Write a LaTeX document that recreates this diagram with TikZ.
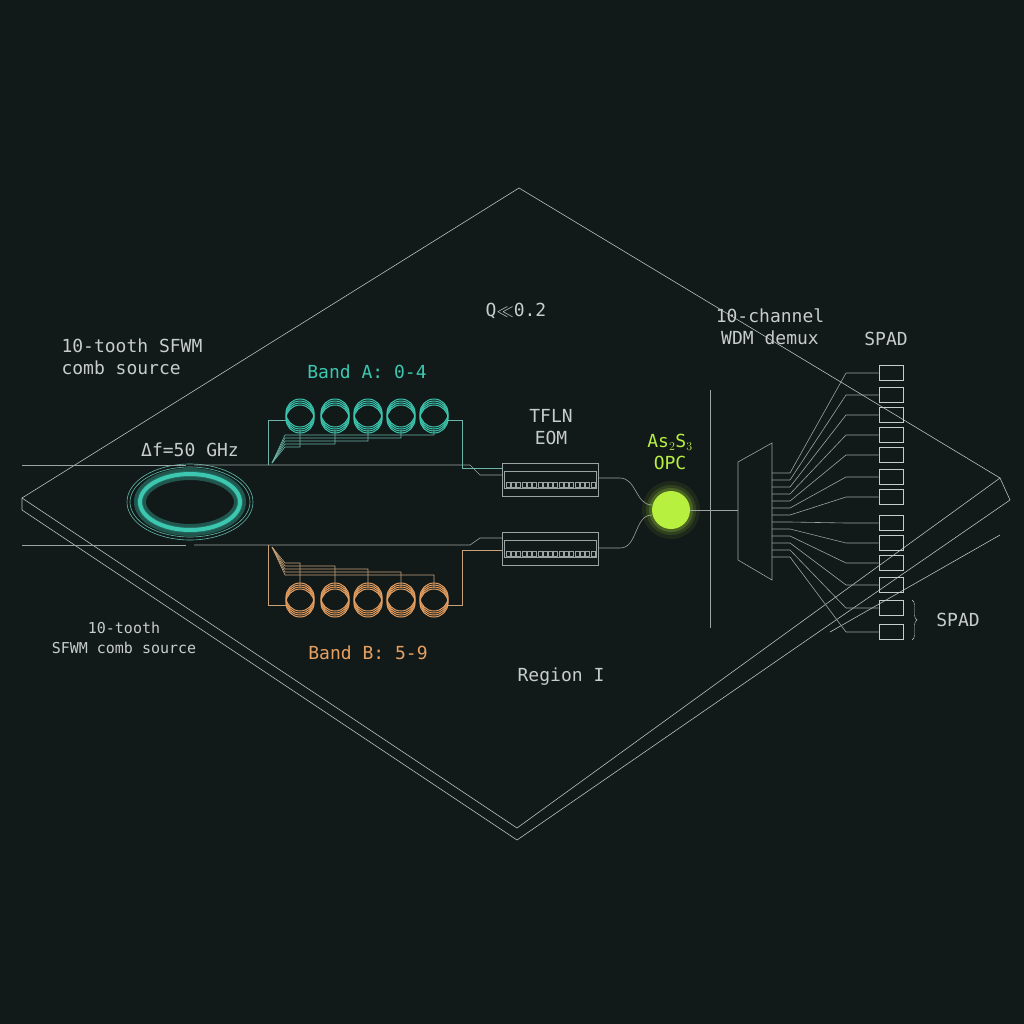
\documentclass[tikz,border=0pt]{standalone}
\usepackage{fontspec}
\setmainfont{DejaVu Sans Mono}
\usetikzlibrary{decorations.pathreplacing}
\definecolor{bgc}{HTML}{111919}
\definecolor{teal}{HTML}{3CC8B0}
\definecolor{orng}{HTML}{E8A060}
\definecolor{lime}{HTML}{B8F040}
\definecolor{gry}{HTML}{C8CCCA}
\definecolor{wire}{HTML}{9AA4A2}
\tikzset{
  lbl/.style={text=gry, font=\fontsize{18}{22}\selectfont, align=center},
  wg/.style={draw=wire, line width=0.6pt},
  plate/.style={draw=wire!70, line width=0.6pt},
  spad/.style={draw=gry, line width=0.7pt, minimum width=24pt, minimum height=15pt, inner sep=0pt},
}
\begin{document}
\begin{tikzpicture}[x=1pt,y=-1pt]
\useasboundingbox[fill=bgc] (0,0) rectangle (1024,1024);

% chip plate
\draw[plate] (519,188) -- (1000,478) -- (517,828) -- (22,498) -- cycle;
\draw[plate] (22,498) -- (22,510) -- (517,840) -- (1010,500) -- (1000,478);
\draw[plate] (830,632) -- (1000,535);

% comb ring
\foreach \o in {1,0.5,0.25} \draw[teal, opacity=\o*0.35, line width=12pt*\o] (190,502) ellipse (50 and 28);
\draw[teal, line width=4pt] (190,502) ellipse (50 and 28);
\draw[wg, teal!60!wire] (190,502) ellipse (60 and 35);
\draw[wg, teal!60!wire] (190,502) ellipse (63 and 38);
\coordinate (busA) at (22,465);
\coordinate (busB) at (22,545);
\draw[wg] (busA) -- (186,465);
\draw[wg] (194,465) -- (470,465) -- (480,475) -- (502,475);
\draw[wg] (busB) -- (186,545);
\draw[wg] (194,545) -- (470,545) -- (480,538) -- (502,538);

% band A rings
\foreach \x [count=\i] in {300,335,368,401,434}{
  \foreach \d in {0,2,4,6} \draw[teal, line width=1pt] (\x,413+\d) circle (14);
  \draw[wg, teal!50!wire] (\x,430) -- (\x,450-\i*3) -- (285,450-\i*3) -- (272,463);
}
\draw[wg, teal!50!wire] (268,465) -- (268,420) -- (286,420);
\draw[wg, teal!50!wire] (448,420) -- (462,420) -- (462,468) -- (502,468);

% band B rings
\foreach \x [count=\i] in {300,335,368,401,434}{
  \foreach \d in {0,2,4,6} \draw[orng, line width=1pt] (\x,597+\d) circle (14);
  \draw[wg, orng!60!wire] (\x,588) -- (\x,560+\i*3) -- (285,560+\i*3) -- (272,547);
}
\draw[wg, orng!60!wire] (268,545) -- (268,605) -- (286,605);
\draw[wg, orng!60!wire] (448,605) -- (462,605) -- (462,550) -- (502,550);

% TFLN modulators
\foreach \y in {463,532}{
  \draw[wg] (502,\y) rectangle (598,\y+33);
  \draw[wg] (504,\y+8) rectangle (596,\y+25);
  \foreach \k in {0,...,16} \draw[wg] (506+\k*5.3,\y+19) rectangle (510+\k*5.3,\y+24);
}
\draw[wg] (598,478) -- (620,478) to[out=0,in=180] (652,505);
\draw[wg] (598,548) -- (620,548) to[out=0,in=180] (652,515);

% OPC
\node (opc) [circle, fill=lime, minimum size=38pt, inner sep=0pt] at (671,510) {};
\foreach \r/\o in {58/0.08,50/0.12,44/0.2} \fill[lime, opacity=\o] (671,510) circle (\r/2);
\draw[wg] (opc.east) -- (738,510);
\draw[wire] (710,390) -- (710,628);

% demux
\draw[wg, fill=bgc] (738,462) -- (772,443) -- (772,580) -- (738,560) -- cycle;
\foreach \y [count=\i] in {373,395,415,435,455,477,497,523,543,563,585,608,632}{
  \node (s\i) [spad] at (891,\y) {};
  \draw[wg] (772,466+\i*7) -- (790,466+\i*7) -- (846,\y) -- (s\i.west);
}
\draw[decorate, decoration={brace, amplitude=5pt}, gry] (912,600) -- (912,640);

% labels
\node[lbl, align=left, anchor=west] at (58,357) {10-tooth SFWM\\comb source};
\node[lbl, text=teal] at (367,372) {Band A: 0-4};
\node[lbl] at (190,450) {Δf=50 GHz};
\node[lbl] at (516,311) {Q$\ll$0.2};
\node[lbl] at (770,327) {10-channel\\WDM demux};
\node[lbl] at (886,339) {SPAD};
\node[lbl] at (551,427) {TFLN\\EOM};
\node[lbl, text=lime] at (670,452) {As$_2$S$_3$\\OPC};
\node[lbl, font=\fontsize{15}{20}\selectfont] at (124,638) {10-tooth\\SFWM comb source};
\node[lbl, text=orng] at (368,653) {Band B: 5-9};
\node[lbl] at (561,677) {Region I};
\node[lbl] at (958,620) {SPAD};
\end{tikzpicture}
\end{document}
